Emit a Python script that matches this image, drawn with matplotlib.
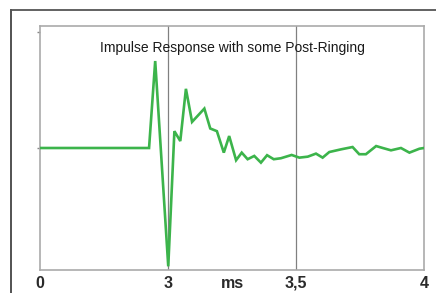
import numpy as np
import matplotlib.pyplot as plt
from matplotlib.lines import Line2D

# impulse response (time in ms, amplitude normalised)
t_ms = [2.5, 2.926, 2.950, 3.001, 3.025, 3.048, 3.070, 3.094, 3.142, 3.165,
        3.191, 3.218, 3.239, 3.266, 3.288, 3.311, 3.337, 3.363, 3.387, 3.413,
        3.441, 3.483, 3.513, 3.546, 3.578, 3.604, 3.630, 3.676, 3.721, 3.747,
        3.773, 3.813, 3.839, 3.871, 3.910, 3.943, 3.982, 4.0]
amp = [0.0, 0.0, 0.713, -0.97, 0.138, 0.057, 0.485, 0.214, 0.323, 0.160,
       0.138, -0.038, 0.098, -0.10, -0.038, -0.092, -0.065, -0.12, -0.059, -0.092,
       -0.084, -0.057, -0.079, -0.071, -0.046, -0.079, -0.033, -0.011, 0.008, -0.051,
       -0.051, 0.016, 0.0, -0.019, 0.0, -0.038, -0.006, 0.0]

tick_pos = [2.5, 3.0, 3.25, 3.5, 4.0]
tick_lab = ['0', '3', 'ms', '3,5', '4']

fig = plt.figure(figsize=(4.36, 2.93), dpi=100)
ax = fig.add_axes([40/436, 23/293, 384/436, 244/293])

ax.plot(t_ms, amp, color='#3cb44b', lw=1.9, solid_joinstyle='miter', zorder=3)
for g in [3.0, 3.5]:
    ax.axvline(g, color='#808080', lw=0.9, zorder=1)

ax.set_xlim(2.5, 4.0)
ax.set_ylim(-1.0, 1.0)
ax.set_xticks(tick_pos)
ax.set_xticklabels(tick_lab, fontsize=11.5, fontweight='bold', color='#2a2a2a',
                   family='Liberation Sans')
ax.tick_params(axis='x', length=0, pad=4)
ax.set_yticks([0.0, 0.95])
ax.set_yticklabels([])
ax.tick_params(axis='y', length=2, color='#888888', width=1)
for s in ax.spines.values():
    s.set_color('#aaaaaa')
    s.set_linewidth(1.2)

ax.text(3.25, 0.82, 'Impulse Response with some Post-Ringing',
        ha='center', va='center', fontsize=10,
        family='Liberation Sans', color='#1a1a1a')

# outer frame (only top and left visible)
fig.add_artist(Line2D([11/436, 11/436], [0, 1 - 10/293], color='#444444', lw=1.3))
fig.add_artist(Line2D([11/436, 1], [1 - 10/293, 1 - 10/293], color='#555555', lw=1.3))

fig.savefig('out.png', dpi=100)
